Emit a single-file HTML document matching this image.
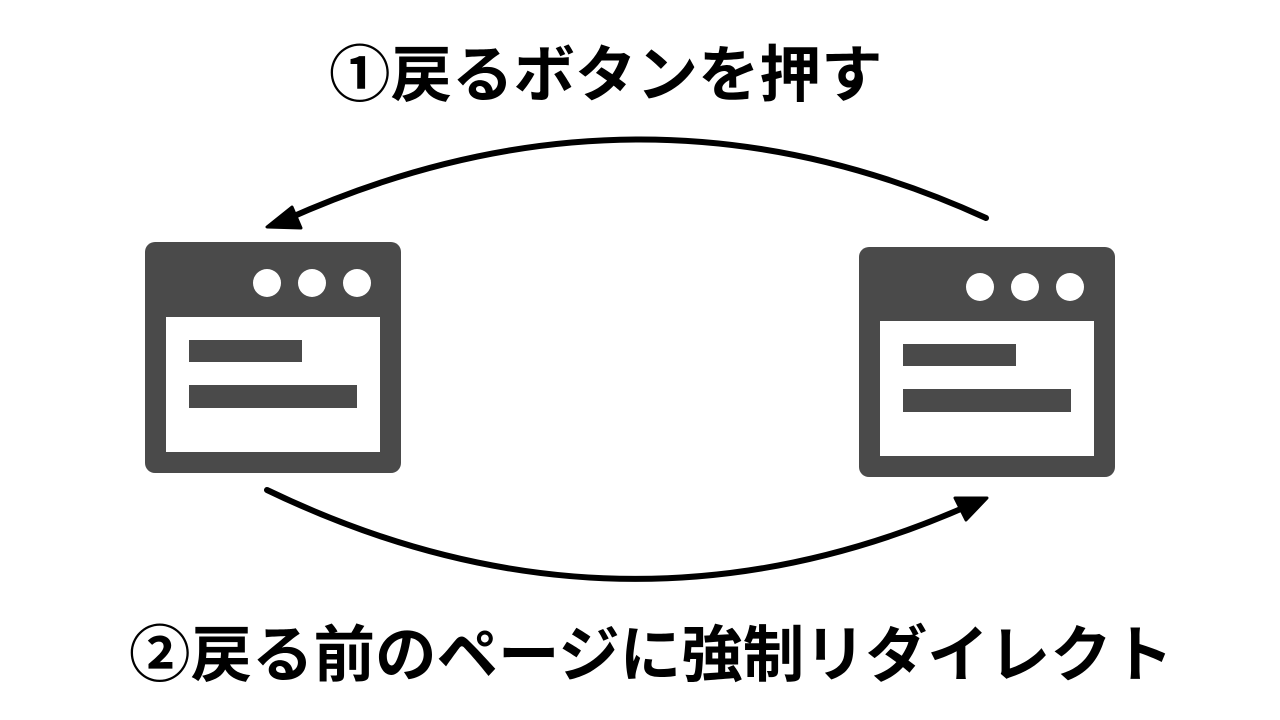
<!DOCTYPE html>
<html><head><meta charset="utf-8"><style>
body{margin:0;width:1280px;height:720px;background:#fff;position:relative;overflow:hidden;font-family:"Liberation Sans","Noto Sans CJK JP",sans-serif}
.t{position:absolute;font-weight:bold;font-size:61.5px;line-height:62px;white-space:nowrap;color:#000;font-family:"Noto Sans CJK JP",sans-serif}
</style></head><body>
<div class="t" style="left:329px;top:39px;">①戻るボタンを押す</div>
<div class="t" style="left:129px;top:619px;">②戻る前のページに強制リダイレクト</div>
<svg width="1280" height="720" style="position:absolute;left:0;top:0">
<g fill="#4a4a4a">
<rect x="145" y="242" width="256" height="231" rx="10"/>
<rect x="859" y="247" width="256" height="230" rx="10"/>
</g>
<g fill="#fff">
<rect x="166" y="317" width="214" height="135"/>
<circle cx="267" cy="283" r="14"/><circle cx="312" cy="283" r="14"/><circle cx="357" cy="283" r="14"/>
<rect x="880" y="321" width="214" height="135"/>
<circle cx="980" cy="287" r="14"/><circle cx="1025" cy="287" r="14"/><circle cx="1070" cy="287" r="14"/>
</g>
<g fill="#4a4a4a">
<rect x="189" y="340" width="113" height="22"/><rect x="189" y="385" width="168" height="23"/>
<rect x="903" y="344" width="113" height="22"/><rect x="903" y="389" width="168" height="23"/>
</g>
<g fill="none" stroke="#000" stroke-width="6" stroke-linecap="round" stroke-linejoin="round">
<path d="M986 218 Q640 60 285 220"/>
<path d="M267 490 Q620 660 970 505"/>
</g>
<g fill="#000" stroke="#000" stroke-width="3" stroke-linejoin="round">
<path d="M292 207 L267 227 L301 228 Z"/>
<path d="M955 498 L987 498 L966 520 Z"/>
</g>
</svg>
</body></html>
